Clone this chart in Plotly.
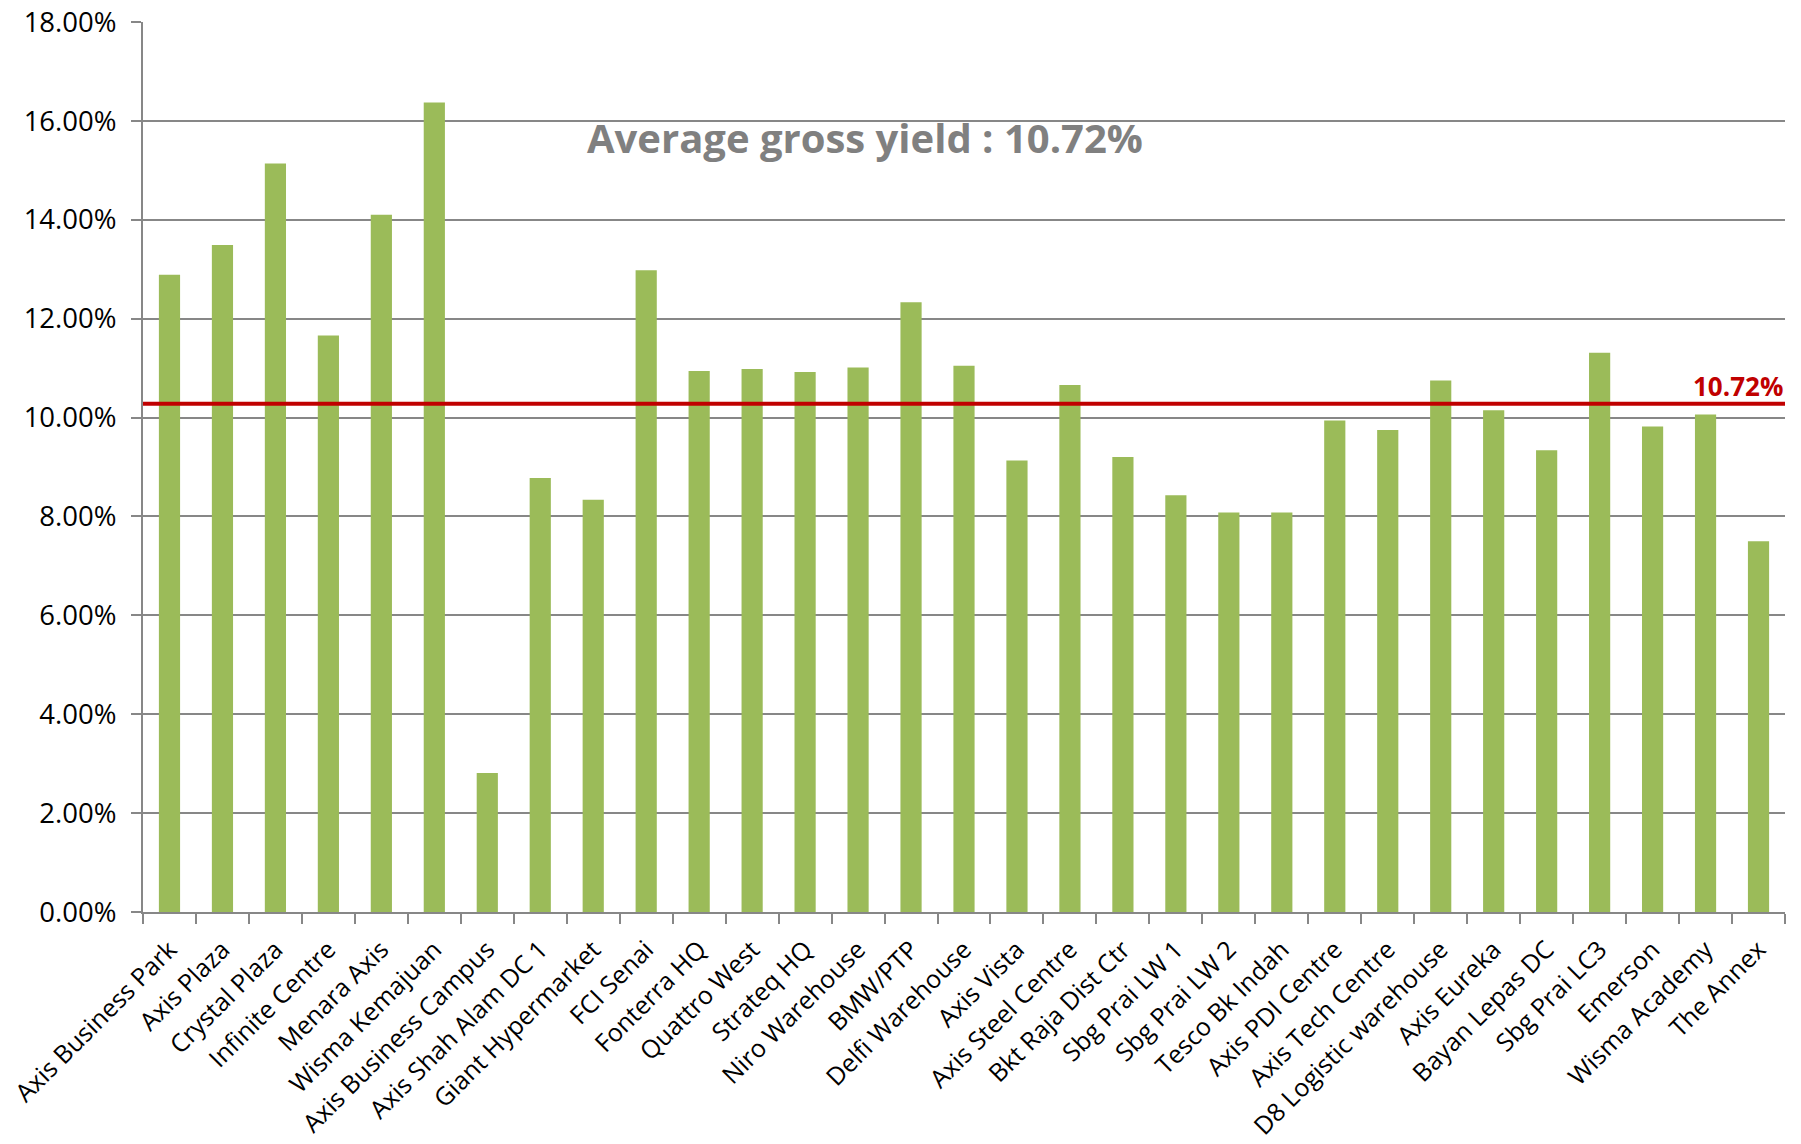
import plotly.graph_objects as go

categories = ["Axis Business Park", "Axis Plaza", "Crystal Plaza", "Infinite Centre", "Menara Axis",
              "Wisma Kemajuan", "Axis Business Campus", "Axis Shah Alam DC 1", "Giant Hypermarket",
              "FCI Senai", "Fonterra HQ", "Quattro West", "Strateq HQ", "Niro Warehouse", "BMW/PTP",
              "Delfi Warehouse", "Axis Vista", "Axis Steel Centre", "Bkt Raja Dist Ctr", "Sbg Prai LW 1",
              "Sbg Prai LW 2", "Tesco Bk Indah", "Axis PDI Centre", "Axis Tech Centre",
              "D8 Logistic warehouse", "Axis Eureka", "Bayan Lepas DC", "Sbg Prai LC3", "Emerson",
              "Wisma Academy", "The Annex"]
gross_yield = [12.89, 13.49, 15.14, 11.66, 14.10, 16.37, 2.81, 8.78, 8.34, 12.98, 10.94, 10.98,
               10.92, 11.01, 12.33, 11.05, 9.13, 10.66, 9.20, 8.43, 8.08, 8.08, 9.94, 9.75, 10.75,
               10.15, 9.34, 11.31, 9.82, 10.06, 7.50]
average_line_level = [10.28]
average_label = "10.72%"
title_text = "Average gross yield : 10.72%"
y_ticks = [0, 2, 4, 6, 8, 10, 12, 14, 16, 18]
y_tick_labels = ["0.00%", "2.00%", "4.00%", "6.00%", "8.00%", "10.00%", "12.00%", "14.00%", "16.00%", "18.00%"]

FONT = "Open Sans"
GRID = "#878787"

fig = go.Figure()
fig.add_trace(go.Bar(
    x=categories, y=gross_yield, width=0.4,
    marker=dict(color="#9BBB59", line=dict(width=0)),
    showlegend=False, hoverinfo="x+y",
))

fig.add_shape(type="line", xref="paper", yref="y", x0=0, x1=1,
              y0=average_line_level[0], y1=average_line_level[0],
              line=dict(color="#C00000", width=4), layer="above")

fig.add_annotation(text=f"<b>{average_label}</b>", xref="paper", yref="y", x=1.0,
                   y=average_line_level[0], xanchor="right", yanchor="bottom", yshift=-2,
                   showarrow=False, font=dict(family=FONT, size=26, color="#C00000"))

fig.add_annotation(text=f"<b>{title_text}</b>", xref="paper", yref="y", x=0.44, y=15.66,
                   xanchor="center", yanchor="middle", showarrow=False,
                   font=dict(family=FONT, size=40, color="#808080"))

fig.update_layout(
    width=1801, height=1144,
    margin=dict(l=143, r=16, t=22, b=232, autoexpand=False),
    paper_bgcolor="white", plot_bgcolor="white",
    font=dict(family=FONT, color="black"),
    bargap=0.6,
)
fig.update_xaxes(
    type="category", tickangle=-45, tickfont=dict(size=25, color="black"),
    showline=True, linecolor=GRID, linewidth=2,
    ticks="outside", tickson="boundaries", ticklen=10, tickcolor=GRID, tickwidth=2,
    showgrid=False, automargin=False, ticklabelstandoff=11,
)
fig.update_yaxes(
    range=[0, 18], tickvals=y_ticks, ticktext=y_tick_labels,
    tickfont=dict(size=27.5, color="black"),
    showline=True, linecolor=GRID, linewidth=2,
    ticks="outside", ticklen=10, tickcolor=GRID, tickwidth=2,
    showgrid=True, gridcolor=GRID, gridwidth=2, zeroline=False,
    ticklabelstandoff=9, automargin=False,
)

fig.write_html("out.html")
